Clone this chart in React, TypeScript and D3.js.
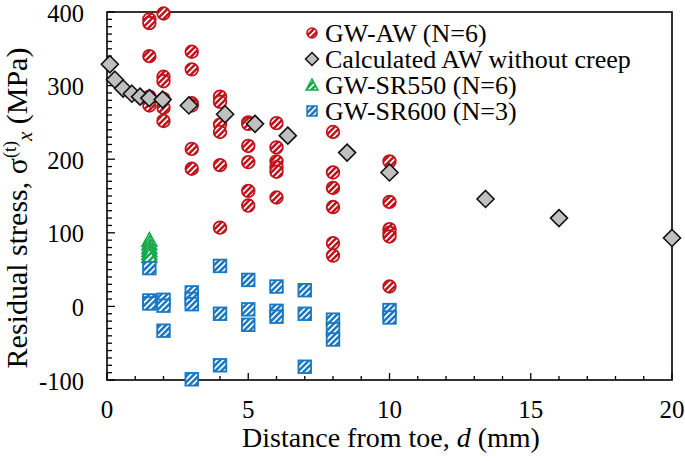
import React from 'react';
import * as d3 from 'd3';

// ---------- data ----------
const awDistance = [
  1.5, 1.5, 1.5, 1.5, 1.5, 1.5,
  2, 2, 2, 2, 2, 2,
  3, 3, 3, 3, 3, 3,
  4, 4, 4, 4, 4, 4,
  5, 5, 5, 5, 5, 5,
  6, 6, 6, 6, 6, 6,
  8, 8, 8, 8, 8, 8,
  10, 10, 10, 10, 10, 10,
];
const awStress = [
  390, 385, 340, 285, 280, 273,
  398, 312, 306, 282, 270, 252,
  346, 322, 276, 273, 214, 187,
  285, 278, 247, 237, 192, 107,
  250, 248, 218, 196, 157, 137,
  249, 216, 197, 189, 183, 148,
  237, 182, 161, 135, 86, 69,
  197, 142, 105, 100, 95, 27,
];

const calcDistance = [0.1, 0.28, 0.57, 0.88, 1.17, 1.5, 1.97, 2.9, 4.18, 5.24, 6.4, 8.5, 10, 13.4, 16, 20];
const calcStress = [329, 308, 296, 289, 285, 283, 281, 273, 261, 248, 232, 209, 182, 146, 120, 93];

const sr550Distance = [1.5, 1.5, 1.5, 1.5, 1.5, 1.5];
const sr550Stress = [90, 85, 80, 76, 72, 68];

const sr600Distance = [
  1.5, 1.5, 1.5,
  2, 2, 2,
  3, 3, 3, 3,
  4, 4, 4,
  5, 5, 5,
  6, 6, 6,
  7, 7, 7,
  8, 8, 8,
  10, 10,
];
const sr600Stress = [
  52, 8, 4,
  9, 1, -33,
  19, 10, 3, -99,
  55, -10, -80,
  36, -4, -25,
  27, -6, -14,
  22, -10, -82,
  -18, -31, -45,
  -5, -15,
];

const xTicks = [0, 5, 10, 15, 20];
const yTicks = [-100, 0, 100, 200, 300, 400];
const legendLabels = ['GW-AW (N=6)', 'Calculated AW without creep', 'GW-SR550 (N=6)', 'GW-SR600 (N=3)'];

// ---------- layout ----------
const W = 685, H = 461;
const L = 107, R = 672, T = 12, B = 380;
const FONT = '"Liberation Serif", "Times New Roman", serif';

const RED = '#c0141c';
const BLUE = '#1a78c2';
const GREEN = '#16a84a';

export default function App() {
  const x = d3.scaleLinear().domain([0, 20]).range([L, R]);
  const y = d3.scaleLinear().domain([-100, 400]).range([B, T]);

  const xMinor = d3.range(0, 21, 1);
  const yMinor = d3.range(-100, 401, 10);

  const diamondPath = 'M0,-8.5L8.5,0L0,8.5L-8.5,0Z';
  const triPath = 'M0,-7.5L7.5,6L-7.5,6Z';

  const pts = (xs: number[], ys: number[]) => xs.map((d, i) => [x(d), y(ys[i])]);

  const stripe = (id: string, color: string) => (
    <pattern id={id} patternUnits="userSpaceOnUse" width={4.2} height={4.2} patternTransform="rotate(45)">
      <rect width={4.2} height={4.2} fill={color} />
      <rect x={0} width={1.7} height={4.2} fill="#fff" />
    </pattern>
  );

  const legendX = 312;
  const legendY = [33, 59, 85, 111];

  return (
    <svg width={W} height={H} style={{ position: 'absolute', left: 0, top: 0, background: '#fff' }} fontFamily={FONT}>
      <defs>
        {stripe('pRed', RED)}
        {stripe('pBlue', BLUE)}
        {stripe('pGreen', GREEN)}
      </defs>
      <rect width={W} height={H} fill="#fff" />

      {/* ticks */}
      {xMinor.map((v) => (
        <line key={'xm' + v} x1={x(v)} x2={x(v)} y1={B} y2={B - (v % 5 === 0 ? 7 : 4)} stroke="#000" strokeWidth={1.3} />
      ))}
      {yMinor.map((v) => (
        <line key={'ym' + v} x1={L} x2={L + (v % 100 === 0 ? 8 : 5)} y1={y(v)} y2={y(v)} stroke="#000" strokeWidth={1.3} />
      ))}

      {/* frame */}
      <rect x={L} y={T} width={R - L} height={B - T} fill="none" stroke="#000" strokeWidth={1.6} />

      {/* tick labels */}
      {xTicks.map((v) => (
        <text key={'xl' + v} x={x(v)} y={418} textAnchor="middle" fontSize={25}>{v}</text>
      ))}
      {yTicks.map((v) => (
        <text key={'yl' + v} x={84} y={y(v) + 9.5} textAnchor="end" fontSize={24.5}>{v}</text>
      ))}

      {/* axis titles */}
      <text x={391} y={447} textAnchor="middle" fontSize={28}>
        Distance from toe, <tspan fontStyle="italic">d</tspan> (mm)
      </text>
      <text transform={`translate(27,${(T + B) / 2 + 12}) rotate(-90)`} textAnchor="middle" fontSize={30}>
        Residual stress, σ<tspan dy={-11} fontSize={18}>(t)</tspan>
        <tspan dy={16} fontSize={21} fontStyle="italic">x</tspan>
        <tspan dy={-5}> (MPa)</tspan>
      </text>

      {/* data */}
      <g>
        {pts(awDistance, awStress).map(([px, py], i) => (
          <circle key={'aw' + i} cx={px} cy={py} r={6.3} fill="url(#pRed)" stroke={RED} strokeWidth={1.8} />
        ))}
        {pts(calcDistance, calcStress).map(([px, py], i) => (
          <path key={'c' + i} d={diamondPath} transform={`translate(${px},${py})`} fill="#c0c0c0" stroke="#111" strokeWidth={1.6} />
        ))}
        {pts(sr550Distance, sr550Stress).map(([px, py], i) => (
          <path key={'g' + i} d={triPath} transform={`translate(${px},${py})`} fill="url(#pGreen)" stroke={GREEN} strokeWidth={1.5} />
        ))}
        {pts(sr600Distance, sr600Stress).map(([px, py], i) => (
          <rect key={'b' + i} x={px - 6.3} y={py - 6.3} width={12.6} height={12.6} fill="url(#pBlue)" stroke={BLUE} strokeWidth={1.8} />
        ))}
      </g>

      {/* legend */}
      <g>
        <circle cx={legendX} cy={legendY[0]} r={5} fill="url(#pRed)" stroke={RED} strokeWidth={1.6} />
        <path d="M0,-6.5L6.5,0L0,6.5L-6.5,0Z" transform={`translate(${legendX},${legendY[1]})`} fill="#c0c0c0" stroke="#111" strokeWidth={1.5} />
        <path d="M0,-6L6,5L-6,5Z" transform={`translate(${legendX},${legendY[2]})`} fill="url(#pGreen)" stroke={GREEN} strokeWidth={1.5} />
        <rect x={legendX - 5} y={legendY[3] - 5} width={10} height={10} fill="url(#pBlue)" stroke={BLUE} strokeWidth={1.5} />
        {legendLabels.map((t, i) => (
          <text key={t} x={325} y={legendY[i] + 8.5} fontSize={26}>{t}</text>
        ))}
      </g>
    </svg>
  );
}
